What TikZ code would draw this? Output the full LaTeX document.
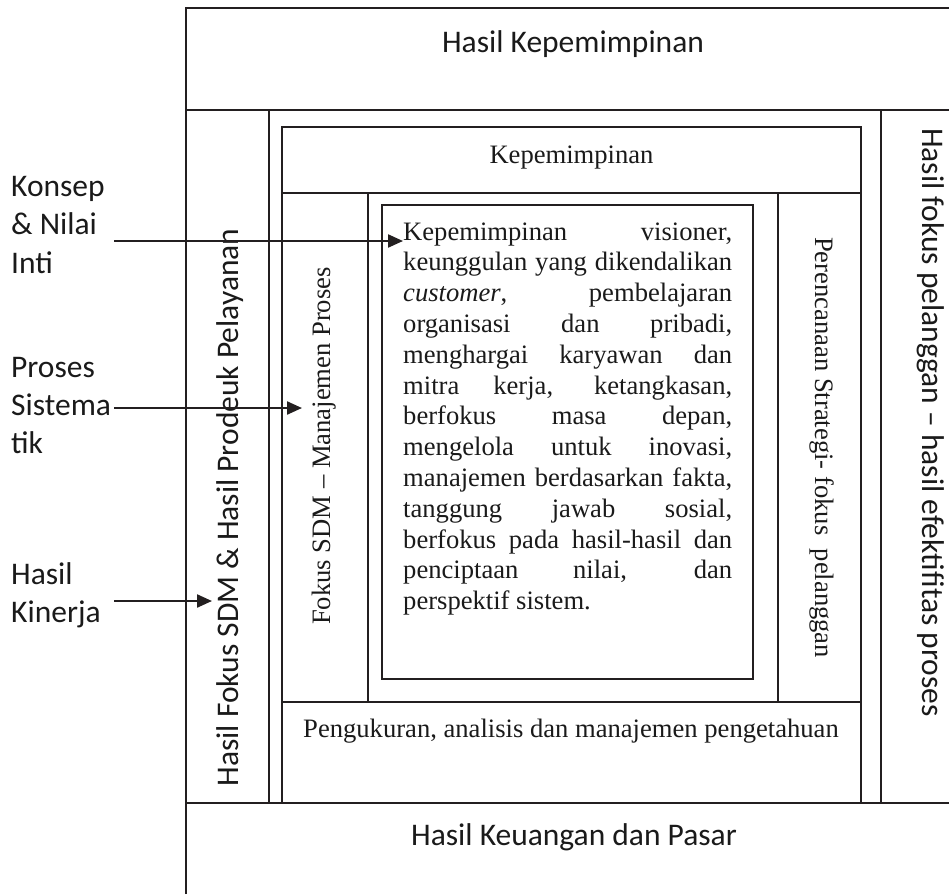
\documentclass[tikz,border=0pt]{standalone}
\usepackage{fontspec}
\setmainfont{Liberation Serif}
\newfontfamily\sansf{Carlito}
\usetikzlibrary{arrows.meta}
\definecolor{lc}{HTML}{231F20}
\definecolor{tc}{HTML}{1A1A1A}
\newcommand\parline[1]{\hbox to 329pt{#1}}
\begin{document}
\begin{tikzpicture}[x=1pt,y=-1pt,
  ln/.style={line width=1.6pt, draw=lc},
  arr/.style={line width=2.2pt, draw=lc, -{Triangle[length=15pt,width=13pt]}},
  sanst/.style={font=\sansf\fontsize{31.5}{38}\selectfont, inner sep=0pt, text=tc},
  sert/.style={font=\fontsize{26.6}{30.8}\selectfont, inner sep=0pt, text=tc},
]
\useasboundingbox (0,0) rectangle (949,894);
% frame lines
\draw[ln] (186,894) -- (186,8) -- (949,8);
\draw[ln] (186,110) -- (949,110);
\draw[ln] (186,803) -- (949,803);
\draw[ln] (269,110) -- (269,803);
\draw[ln] (881,110) -- (881,803);
\draw[ln] (282,127) rectangle (861,803);
\draw[ln] (282,193) -- (861,193);
\draw[ln] (282,702) -- (861,702);
\draw[ln] (368,193) -- (368,702);
\draw[ln] (778,193) -- (778,702);
\draw[ln] (382,205) rectangle (753,679);
% texts
\node[sanst, anchor=base] (hk) at (573,52) {Hasil Kepemimpinan};
\node[sert, anchor=base] (kp) at (571.5,163) {Kepemimpinan};
\node[sert, anchor=base] (pg) at (571,737) {Pengukuran, analisis dan manajemen pengetahuan};
\node[sanst, anchor=base] (hkp) at (574,845) {Hasil Keuangan dan Pasar};
\node[sanst, rotate=90, anchor=base] (lcol) at (238,507.5) {Hasil Fokus SDM \& Hasil Prodeuk Pelayanan};
\node[sert, rotate=90, anchor=base] (fcol) at (330,446) {Fokus SDM – Manajemen Proses};
\node[sert, rotate=-90, anchor=base] (scol) at (815,447.5) {Perencanaan Strategi- fokus\ \ pelanggan};
\node[sanst, rotate=-90, anchor=base] (rcol) at (922,422.5) {Hasil fokus pelanggan – hasil efektifitas proses};
% paragraph
\node[sert, anchor=base west] (para) at (403,240) {\vtop{\baselineskip=30.8pt
\parline{Kepemimpinan visioner,}
\parline{keunggulan yang dikendalikan}
\parline{\textit{customer}, pembelajaran}
\parline{organisasi dan pribadi,}
\parline{menghargai karyawan dan}
\parline{mitra kerja, ketangkasan,}
\parline{berfokus masa depan,}
\parline{mengelola untuk inovasi,}
\parline{manajemen berdasarkan fakta,}
\parline{tanggung jawab sosial,}
\parline{berfokus pada hasil-hasil dan}
\parline{penciptaan nilai, dan}
\hbox{perspektif sistem.}}};
% left labels
\node[sanst, anchor=base west] (l1a) at (11,196) {Konsep};
\node[sanst, anchor=base west] (l1b) at (11,234.5) {\& Nilai};
\node[sanst, anchor=base west] (l1c) at (11,273) {Inti};
\node[sanst, anchor=base west] (l2a) at (11,377) {Proses};
\node[sanst, anchor=base west] (l2b) at (11,415) {Sistema};
\node[sanst, anchor=base west] (l2c) at (11,453) {tik};
\node[sanst, anchor=base west] (l3a) at (11,584) {Hasil};
\node[sanst, anchor=base west] (l3b) at (11,622) {Kinerja};
% arrows
\coordinate (a1s) at (114,241);
\coordinate (a1e) at (403,241);
\coordinate (a2s) at (114,408);
\coordinate (a2e) at (302,408);
\coordinate (a3s) at (114,601);
\coordinate (a3e) at (212,601);
\draw[arr] (a1s) -- (a1e);
\draw[arr] (a2s) -- (a2e);
\draw[arr] (a3s) -- (a3e);
\end{tikzpicture}
\end{document}
